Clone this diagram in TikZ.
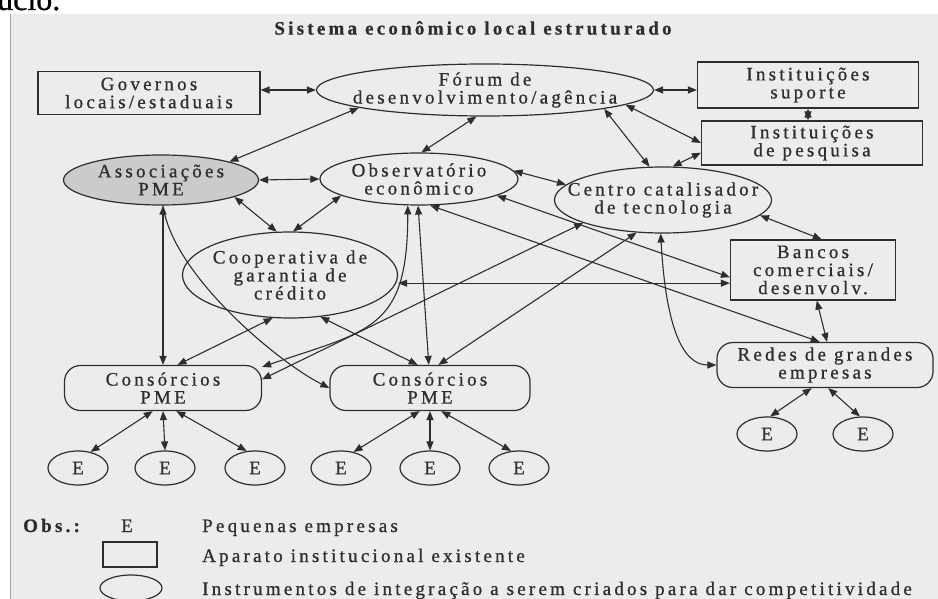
\documentclass[tikz,border=0pt]{standalone}
\usepackage{fontspec}
\setmainfont{Liberation Serif}[LetterSpace=17, FakeBold=0.8]
\usetikzlibrary{shapes.geometric, arrows.meta, positioning}

\definecolor{scan}{HTML}{ECECEC}
\definecolor{ink}{HTML}{2E2E2E}
\definecolor{shade}{HTML}{CBCBCB}

\begin{document}
\begin{tikzpicture}[x=1pt, y=-1pt,
    every node/.style={text=ink, font=\fontsize{19}{18}\selectfont, inner sep=0pt},
    box/.style={draw=ink, line width=1.2pt, rectangle, align=center},
    instr/.style={draw=ink, line width=1.2pt, ellipse, align=center, inner xsep=-25pt, inner ysep=-8pt},
    cons/.style={draw=ink, line width=1.2pt, rectangle, rounded corners=16pt, align=center},
    firm/.style={draw=ink, line width=1.2pt, ellipse, minimum width=60pt, minimum height=34pt},
    link/.style={draw=ink, line width=1.1pt, {Triangle[length=9pt,width=7pt]}-{Triangle[length=9pt,width=7pt]}},
    oneway/.style={draw=ink, line width=1.1pt, -{Triangle[length=9pt,width=7pt]}}]
    \useasboundingbox (0,0) rectangle (938,599);
    \fill[white] (0,0) rectangle (938,599);
    \fill[scan] (10,14) rectangle (938,599);
    \draw[gray!70, line width=1pt] (10,14) -- (10,599);
    \begin{scope}
        \clip (0,0) rectangle (938,13);
        \node[anchor=base west, text=black, font=\fontsize{32}{32}\selectfont\addfontfeature{LetterSpace=0}] (frag) at (-3,10) {ucio.};
    \end{scope}

    \node[font=\fontsize{19}{18}\selectfont\bfseries] (title) at (473,28) {Sistema econômico local estruturado};

    \node[box, minimum width=222pt, minimum height=43pt] (gov) at (149,93) {Governos\\locais/estaduais};
    \node[instr, minimum width=337pt, minimum height=52pt] (forum) at (485,90) {Fórum de\\desenvolvimento/agência};
    \node[box, minimum width=221pt, minimum height=46pt] (suporte) at (808,85) {Instituições\\suporte};
    \node[box, minimum width=221pt, minimum height=44pt] (pesquisa) at (812,143) {Instituições\\de pesquisa};
    \node[instr, fill=shade, minimum width=195pt, minimum height=50pt] (assoc) at (161,180) {Associações\\PME};
    \node[instr, minimum width=198pt, minimum height=52pt] (obs) at (419,179) {Observatório\\econômico};
    \node[instr, minimum width=217pt, minimum height=66pt] (centro) at (663,200) {Centro catalisador\\de tecnologia};
    \node[box, minimum width=165pt, minimum height=60pt] (bancos) at (813,270) {Bancos\\comerciais/\\desenvolv.};
    \node[instr, minimum width=215pt, minimum height=86pt] (coop) at (290,275) {Cooperativa de\\garantia de\\crédito};
    \node[cons, minimum width=197pt, minimum height=45pt] (consA) at (163,388) {Consórcios\\PME};
    \node[cons, minimum width=200pt, minimum height=45pt] (consB) at (430,388) {Consórcios\\PME};
    \node[cons, minimum width=216pt, minimum height=45pt] (redes) at (825,365) {Redes de grandes\\empresas};

    \node[firm] (E1) at (78,468) {E};
    \node[firm] (E2) at (165,468) {E};
    \node[firm] (E3) at (255,468) {E};
    \node[firm] (E4) at (341,468) {E};
    \node[firm] (E5) at (430,468) {E};
    \node[firm] (E6) at (519,468) {E};
    \node[firm] (E7) at (767,434) {E};
    \node[firm] (E8) at (863,434) {E};

    \draw[link] (gov.east |- forum.west) to (forum.west);
    \draw[link] (forum.east) to (forum.east -| suporte.west);
    \draw[link] (suporte.south) to (suporte.south |- pesquisa.north);
    \draw[link] (forum.188) to (assoc.15);
    \draw[link] (forum.252) to (obs.85);
    \draw[link] (forum.-9) to (centro.112);
    \draw[link] (forum.-6.5) to (pesquisa.west);
    \draw[link] (pesquisa.185) to (centro.74);
    \draw[link] (assoc.east) to (obs.west);
    \draw[link] (obs.5) to (centro.171);
    \draw[link] (assoc.-13) to (coop.107);
    \draw[link] (obs.192) to (coop.86);
    \draw[link] (consA.north |- assoc.south) to (consA.north);
    \draw[oneway] (consA.north |- assoc.south) .. controls +(10,70) and +(-50,-25) .. (consB.west);
    \draw[link] (obs.247) .. controls +(0,125) and +(108,-37) .. (consA.12);
    \draw[link] (obs.268) to (consB.93);
    \draw[link] (obs.-12) to (bancos.185);
    \draw[link] (obs.293) to (redes.103);
    \draw[link] (bancos.189) to (bancos.189 -| coop.east);
    \draw[link] (coop.248) to (consA.58);
    \draw[link] (coop.-54) to (consB.118);
    \draw[link] (centro.196) to (consA.5);
    \draw[link] (centro.231) to (consB.70);
    \draw[link] (centro.266) .. controls +(5,90) and +(-35,0) .. (redes.west);
    \draw[link] (centro.-9) to (bancos.74);
    \draw[link] (bancos.277) to (redes.85);

    \draw[link] (consA.246) to (E1.52);
    \draw[link] (consA.south) to (E2.north);
    \draw[link] (consA.300) to (E3.116);
    \draw[link] (consB.246) to (E4.52);
    \draw[link] (consB.south) to (E5.north);
    \draw[link] (consB.296) to (E6.115);
    \draw[link] (redes.240) to (E7.80);
    \draw[link] (redes.278) to (E8.100);

    \node[anchor=base west, font=\fontsize{19}{18}\selectfont\bfseries] (obsLbl) at (23,532) {Obs.:};
    \node[anchor=base] (legE) at (127,532) {E};
    \node[anchor=base west] (legE-txt) at (202,532) {Pequenas empresas};
    \node[box, minimum width=54pt, minimum height=25pt] (legBox) at (130,554.5) {};
    \node[anchor=base west] (legBox-txt) at (202,562) {Aparato institucional existente};
    \node[instr, minimum width=62pt, minimum height=26pt] (legEll) at (131,588) {};
    \node[anchor=base west] (legEll-txt) at (202,595) {Instrumentos de integração a serem criados para dar competitividade};
\end{tikzpicture}
\end{document}
